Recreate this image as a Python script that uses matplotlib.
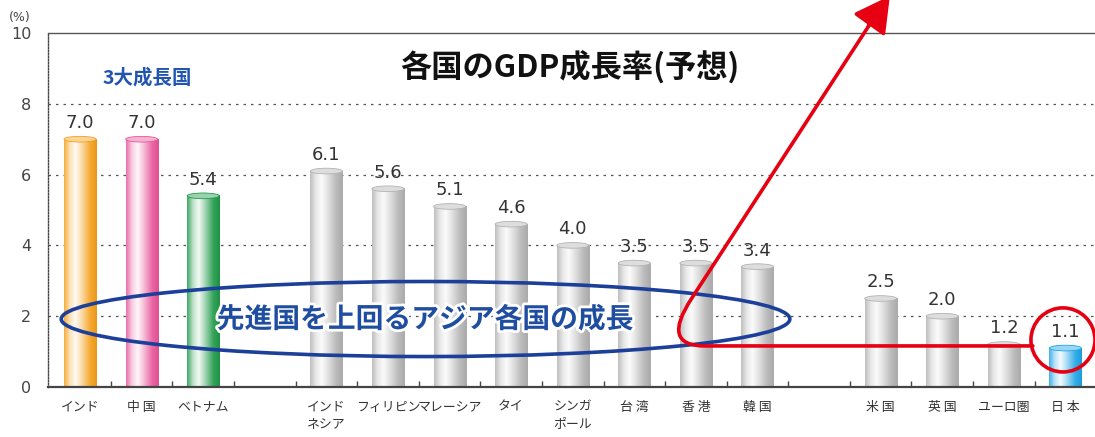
import numpy as np
import matplotlib
matplotlib.use('Agg')
import matplotlib.pyplot as plt
from matplotlib.colors import LinearSegmentedColormap, to_rgb
from matplotlib.patches import Ellipse, PathPatch
from matplotlib.path import Path
import matplotlib.patheffects as pe

plt.rcParams['font.family'] = ['Noto Sans CJK JP', 'DejaVu Sans']

# ---- data ----
countries = ['インド', '中 国', 'ベトナム',
             'インド\nネシア', 'フィリピン', 'マレーシア', 'タイ', 'シンガ\nポール', '台 湾', '香 港', '韓 国',
             '米 国', '英 国', 'ユーロ圏', '日 本']
growth = [7.0, 7.0, 5.4,
          6.1, 5.6, 5.1, 4.6, 4.0, 3.5, 3.5, 3.4,
          2.5, 2.0, 1.2, 1.1]
groups = ['3大成長国'] * 3 + ['アジア'] * 8 + ['先進国'] * 4
bar_colors = ['#f5a01a', '#e8559a', '#1f9a48'] + ['#b3b3b3'] * 11 + ['#1ea5e6']
yticks = [0, 2, 4, 6, 8, 10]
title = '各国のGDP成長率(予想)'
note_top = '3大成長国'
note_mid = '先進国を上回るアジア各国の成長'

# positions: one empty slot between groups
group_order = list(dict.fromkeys(groups))
xpos = np.array([i + group_order.index(g) for i, g in enumerate(groups)], dtype=float)

W, H = 1095, 437
fig = plt.figure(figsize=(W / 100, H / 100), dpi=100)
ax = fig.add_axes([48 / W, 50 / H, 1 - 48 / W, (387 - 33) / H])

def mix(c, t):
    c = np.array(to_rgb(c))
    return tuple(c + (1 - c) * t)

def darker(c, t):
    c = np.array(to_rgb(c))
    return tuple(c * (1 - t))

bw = 0.52
grad = np.linspace(0, 1, 128).reshape(1, -1)
for x, v, c in zip(xpos, growth, bar_colors):
    cmap = LinearSegmentedColormap.from_list('cyl', [
        (0.0, mix(c, 0.15)), (0.18, mix(c, 0.7)), (0.35, mix(c, 0.95)),
        (0.55, mix(c, 0.6)), (0.8, mix(c, 0.1)), (1.0, darker(c, 0.05))])
    ax.imshow(grad, extent=[x - bw / 2, x + bw / 2, 0, v], cmap=cmap, aspect='auto',
              origin='lower', interpolation='bilinear', zorder=2)
    ax.add_patch(Ellipse((x, v), bw, 0.16, facecolor=mix(c, 0.55), edgecolor=c, lw=0.6, zorder=3))
    ax.text(x, v + 0.2, f'{v:.1f}', ha='center', va='bottom', fontsize=13,
            family='DejaVu Sans', color='#333333', zorder=4)

ax.set_xlim(-0.52, 16.48)
ax.set_ylim(0, 10)

# axes styling
ax.spines['right'].set_visible(False)
ax.spines['top'].set_color('#555555')
ax.spines['top'].set_linewidth(1.0)
ax.spines['left'].set_color('#444444')
ax.spines['left'].set_linestyle((0, (1, 1.2)))
ax.spines['left'].set_linewidth(1.0)
ax.spines['bottom'].set_color('#444444')
ax.spines['bottom'].set_linewidth(1.6)

ax.set_yticks(yticks)
ax.set_yticklabels([str(t) for t in yticks], family='DejaVu Sans', fontsize=11.5, color='#444444')
ax.tick_params(axis='y', length=0, pad=12)
for t in yticks[1:-1]:
    ax.axhline(t, color='#555555', lw=0.9, ls=(0, (2, 4)), zorder=1)

ax.set_xticks(xpos)
ax.set_xticklabels(countries, fontsize=9.3, color='#333333', linespacing=1.35)
ax.tick_params(axis='x', length=0, pad=10)
ax.set_xticks(np.arange(0.5, 16.5, 1.0), minor=True)
ax.tick_params(axis='x', which='minor', direction='in', length=4, width=1, color='#444444')

# texts
fig.text(20 / W, 1 - 17 / H, '(%)', ha='center', va='center', fontsize=9,
         family='DejaVu Sans', color='#444444')
fig.text(570 / W, 1 - 68 / H, title, ha='center', va='center', fontsize=22.5,
         fontweight='bold', color='#111111')
fig.text(147 / W, 1 - 78 / H, note_top, ha='center', va='center', fontsize=14,
         fontweight='bold', color='#2255b0')

# blue ellipse and message
ax.add_patch(Ellipse((5.61, 1.92), 11.83, 2.12, fill=False, edgecolor='#1c3f99', lw=2.6, zorder=5))
ax.text(5.6, 1.9, note_mid, ha='center', va='center', fontsize=20, fontweight='bold',
        color='#1f4ea0', zorder=6,
        path_effects=[pe.withStroke(linewidth=4, foreground='white')])

# red arrow path
red = '#e60012'
verts = [(15.47, 1.16), (10.15, 1.16), (9.42, 1.16), (9.93, 2.5), (12.9, 10.45)]
codes = [Path.MOVETO, Path.LINETO, Path.CURVE3, Path.CURVE3, Path.LINETO]
ax.add_patch(PathPatch(Path(verts, codes), fill=False, edgecolor=red, lw=2.6,
                       zorder=7, clip_on=False, capstyle='round', joinstyle='round'))
ax.annotate('', xy=(13.15, 11.05), xytext=(12.8, 10.2), annotation_clip=False,
            arrowprops=dict(arrowstyle='-|>,head_length=1.1,head_width=0.6', color=red,
                            lw=2.6, shrinkA=0, shrinkB=0, mutation_scale=20), zorder=7)
ax.add_patch(Ellipse((15.96, 1.33), 1.04, 1.81, fill=False, edgecolor=red, lw=2.6,
                     zorder=7, clip_on=False))

fig.savefig('out.png', dpi=100)
